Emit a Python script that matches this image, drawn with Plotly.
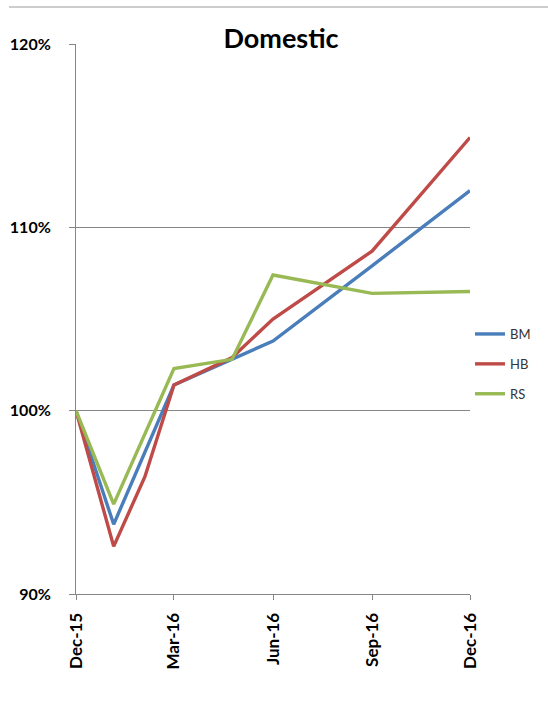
import plotly.graph_objects as go

dates = ["2015-12-01", "2016-01-05", "2016-02-03", "2016-03-01",
         "2016-04-24", "2016-06-01", "2016-09-01", "2016-12-01"]
bm = [100.0, 93.8, None, 101.4, 102.8, 103.8, 107.9, 112.0]
hb = [100.0, 92.6, 96.4, 101.4, 102.9, 105.0, 108.7, 114.9]
rs = [100.0, 94.9, None, 102.3, 102.8, 107.4, 106.4, 106.5]

y_ticks = [90, 100, 110, 120]
y_labels = ["<b>90%</b>", "<b>100%</b>", "<b>110%</b>", "<b>120%</b>"]

series = [("BM", bm, "#4A7EBB"), ("HB", hb, "#BE4B48"), ("RS", rs, "#98B954")]

fig = go.Figure()
for name, vals, col in series:
    fig.add_trace(go.Scatter(x=dates, y=vals, name=name, mode="lines",
                             connectgaps=True, legendgroup=name,
                             line=dict(color=col, width=3.4)))

FONT = "Lato, Open Sans, sans-serif"

fig.update_layout(
    width=548, height=715,
    margin=dict(l=76, r=75, t=44, b=121),
    paper_bgcolor="white", plot_bgcolor="white",
    font=dict(family=FONT, color="#000000"),
    title=dict(text="<b>Domestic</b>", x=281 / 548, xanchor="center", xref="container",
               y=1 - 39 / 715, yref="container", yanchor="middle",
               font=dict(size=27, family=FONT, color="#000")),
    showlegend=True,
    legend=dict(x=1.0, xanchor="left", y=0.5, yanchor="top",
                font=dict(size=13, color="#333333"), tracegroupgap=10,
                bgcolor="rgba(0,0,0,0)", traceorder="grouped",
                itemwidth=30),
    xaxis=dict(type="date", range=["2015-12-01", "2016-12-01"],
               tick0="2015-12-01", dtick="M3", tickformat="%b-%y",
               tickprefix="<b>", ticksuffix="</b>",
               tickangle=-90, showgrid=False, showline=True,
               linecolor="#868686", linewidth=1,
               ticks="outside", ticklen=5, tickcolor="#868686",
               tickfont=dict(size=17, family=FONT, color="#000"),
               fixedrange=True, zeroline=False, ticklabelstandoff=6,
               automargin=False),
    yaxis=dict(range=[90, 120], tickvals=y_ticks, ticktext=y_labels,
               showgrid=True, gridcolor="#868686", gridwidth=1,
               showline=True, linecolor="#868686", linewidth=1,
               ticks="outside", ticklen=6, tickcolor="#868686",
               tickfont=dict(size=16, family=FONT, color="#000"),
               zeroline=False, ticklabelstandoff=15, automargin=False),
)

fig.add_shape(type="line", xref="paper", yref="paper",
              x0=-0.17, x1=1.2, y0=(715 - 121 - 7) / 550, y1=(715 - 121 - 7) / 550,
              line=dict(color="#9a9a9a", width=1))

fig.write_html("out.html")
